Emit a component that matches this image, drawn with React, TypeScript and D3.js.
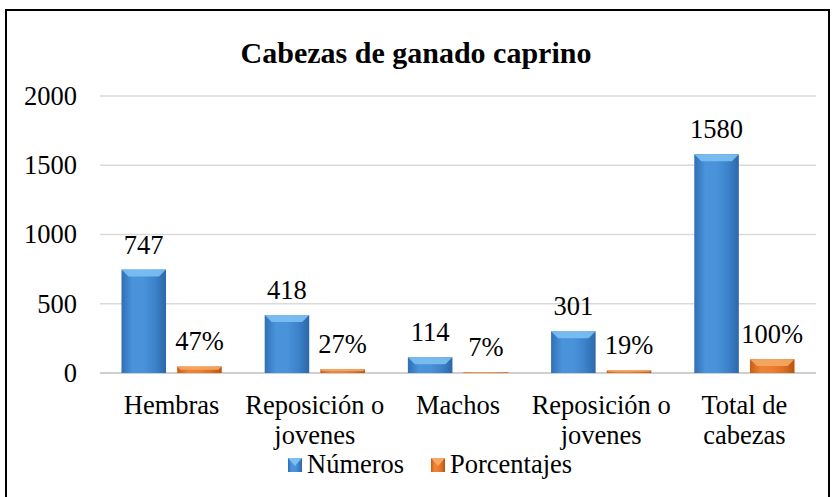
import React, { useEffect, useRef } from "react";
import * as d3 from "d3";

const categories = [
  ["Hembras"],
  ["Reposición o", "jovenes"],
  ["Machos"],
  ["Reposición o", "jovenes"],
  ["Total de", "cabezas"],
];
const numeros = [747, 418, 114, 301, 1580];
const porcentajes = [47, 27, 7, 19, 100];
const seriesNames = ["Números", "Porcentajes"];
const yTicks = [0, 500, 1000, 1500, 2000];

const W = 832;
const H = 497;
const FONT = "Liberation Serif, Times New Roman, serif";
const FS = "26.5px";

export default function App() {
  const ref = useRef<SVGSVGElement>(null);

  useEffect(() => {
    const svg = d3.select(ref.current);
    svg.selectAll("*").remove();

    const margin = { top: 96, right: 16, bottom: 124, left: 100 };
    const width = W - margin.left - margin.right;
    const height = H - margin.top - margin.bottom;

    // gradients for the bevelled bars
    const defs = svg.append("defs");
    const makeGrad = (id: string, stops: string[]) => {
      const g = defs
        .append("linearGradient")
        .attr("id", id)
        .attr("x1", "0")
        .attr("x2", "1")
        .attr("y1", "0")
        .attr("y2", "0");
      stops.forEach((c, i) =>
        g
          .append("stop")
          .attr("offset", i / (stops.length - 1))
          .attr("stop-color", c)
      );
    };
    makeGrad("blueGrad", ["#2f6fb5", "#4a94dc", "#4a92da", "#3c83cc", "#2d67a8"]);
    makeGrad("orangeGrad", ["#c95d16", "#ee8336", "#ec7f30", "#de7024", "#b8530f"]);

    // chart frame
    svg
      .append("rect")
      .attr("x", 6)
      .attr("y", 10)
      .attr("width", 823)
      .attr("height", 520)
      .attr("fill", "white")
      .attr("stroke", "black")
      .attr("stroke-width", 2);

    svg
      .append("text")
      .attr("x", 416)
      .attr("y", 63)
      .attr("text-anchor", "middle")
      .style("font-family", FONT)
      .style("font-size", "30px")
      .style("font-weight", "bold")
      .text("Cabezas de ganado caprino");

    const g = svg
      .append("g")
      .attr("transform", "translate(" + margin.left + "," + margin.top + ")");

    const x0 = d3
      .scaleBand()
      .domain(d3.range(categories.length).map(String))
      .range([0, width])
      .paddingInner(0.3)
      .paddingOuter(0.15);

    const x1 = d3
      .scaleBand()
      .domain(seriesNames)
      .range([0, x0.bandwidth()])
      .paddingInner(0.2);

    const y = d3.scaleLinear().domain([0, 2000]).range([height, 0]);

    // gridlines
    g.selectAll(".grid")
      .data(yTicks)
      .enter()
      .append("line")
      .attr("x1", 0)
      .attr("x2", width)
      .attr("y1", d => y(d))
      .attr("y2", d => y(d))
      .attr("stroke", d => (d === 0 ? "#cfcfcf" : "#dadada"))
      .attr("stroke-width", d => (d === 0 ? 2 : 1.5));

    // y axis labels
    g.append("g")
      .call(
        d3.axisLeft(y).tickValues(yTicks).tickSize(0).tickPadding(23).tickFormat(d3.format("d"))
      )
      .call(a => a.select(".domain").remove())
      .selectAll("text")
      .attr("fill", "black")
      .style("font-family", FONT)
      .style("font-size", FS);

    const rows = categories.map((c, i) => ({
      key: String(i),
      vals: [
        { s: seriesNames[0], v: numeros[i], label: String(numeros[i]) },
        { s: seriesNames[1], v: porcentajes[i], label: porcentajes[i] + "%" },
      ],
    }));

    const grp = g
      .selectAll(".grp")
      .data(rows)
      .enter()
      .append("g")
      .attr("transform", d => "translate(" + x0(d.key) + ",0)");

    const bw = x1.bandwidth();

    const bar = grp
      .selectAll(".bar")
      .data(d => d.vals)
      .enter()
      .append("g");

    bar
      .append("rect")
      .attr("x", d => x1(d.s)!)
      .attr("y", d => y(d.v))
      .attr("width", bw)
      .attr("height", d => Math.max(height - y(d.v), 1))
      .attr("fill", d => (d.s === seriesNames[0] ? "url(#blueGrad)" : "url(#orangeGrad)"));

    // top bevel
    bar
      .append("path")
      .attr("d", d => {
        const h = height - y(d.v);
        const b = Math.min(7, h / 2);
        const x = x1(d.s)!;
        const t = y(d.v);
        return (
          "M" + x + "," + t + "L" + (x + bw) + "," + t +
          "L" + (x + bw - b) + "," + (t + b) + "L" + (x + b) + "," + (t + b) + "Z"
        );
      })
      .attr("fill", d => (d.s === seriesNames[0] ? "#7cc0f2" : "#f6a865"))
      .attr("opacity", 0.9);

    // value labels
    bar
      .append("text")
      .attr("x", d => x1(d.s)! + bw / 2)
      .attr("y", d => y(d.v) - 16)
      .attr("text-anchor", "middle")
      .style("font-family", FONT)
      .style("font-size", FS)
      .text(d => d.label);

    // category labels
    const cat = g
      .selectAll(".cat")
      .data(categories)
      .enter()
      .append("text")
      .attr("x", (d, i) => x0(String(i))! + x0.bandwidth() / 2)
      .attr("y", height + 41)
      .attr("text-anchor", "middle")
      .style("font-family", FONT)
      .style("font-size", FS);
    cat
      .selectAll("tspan")
      .data(d => d)
      .enter()
      .append("tspan")
      .attr("x", function () {
        return (this as any).parentNode.getAttribute("x");
      })
      .attr("dy", (d, i) => (i === 0 ? 0 : 30))
      .text(d => d);

    // legend
    const legend = svg.append("g").attr("transform", "translate(288,473)");
    const items = [
      { name: seriesNames[0], x: 0, grad: "url(#blueGrad)", top: "#7cc0f2" },
      { name: seriesNames[1], x: 143, grad: "url(#orangeGrad)", top: "#f6a865" },
    ];
    const li = legend
      .selectAll(".li")
      .data(items)
      .enter()
      .append("g")
      .attr("transform", d => "translate(" + d.x + ",0)");
    li.append("rect")
      .attr("x", 0)
      .attr("y", -15)
      .attr("width", 14)
      .attr("height", 14)
      .attr("fill", d => d.grad);
    li.append("path")
      .attr("d", "M0,-15L14,-15L7,-7Z")
      .attr("fill", d => d.top);
    li.append("text")
      .attr("x", 19)
      .attr("y", 0)
      .style("font-family", FONT)
      .style("font-size", FS)
      .text(d => d.name);
  }, []);

  return (
    <div style={{ position: "absolute", left: 0, top: 0 }}>
      <svg width={W} height={H} ref={ref} style={{ display: "block" }} />
    </div>
  );
}
